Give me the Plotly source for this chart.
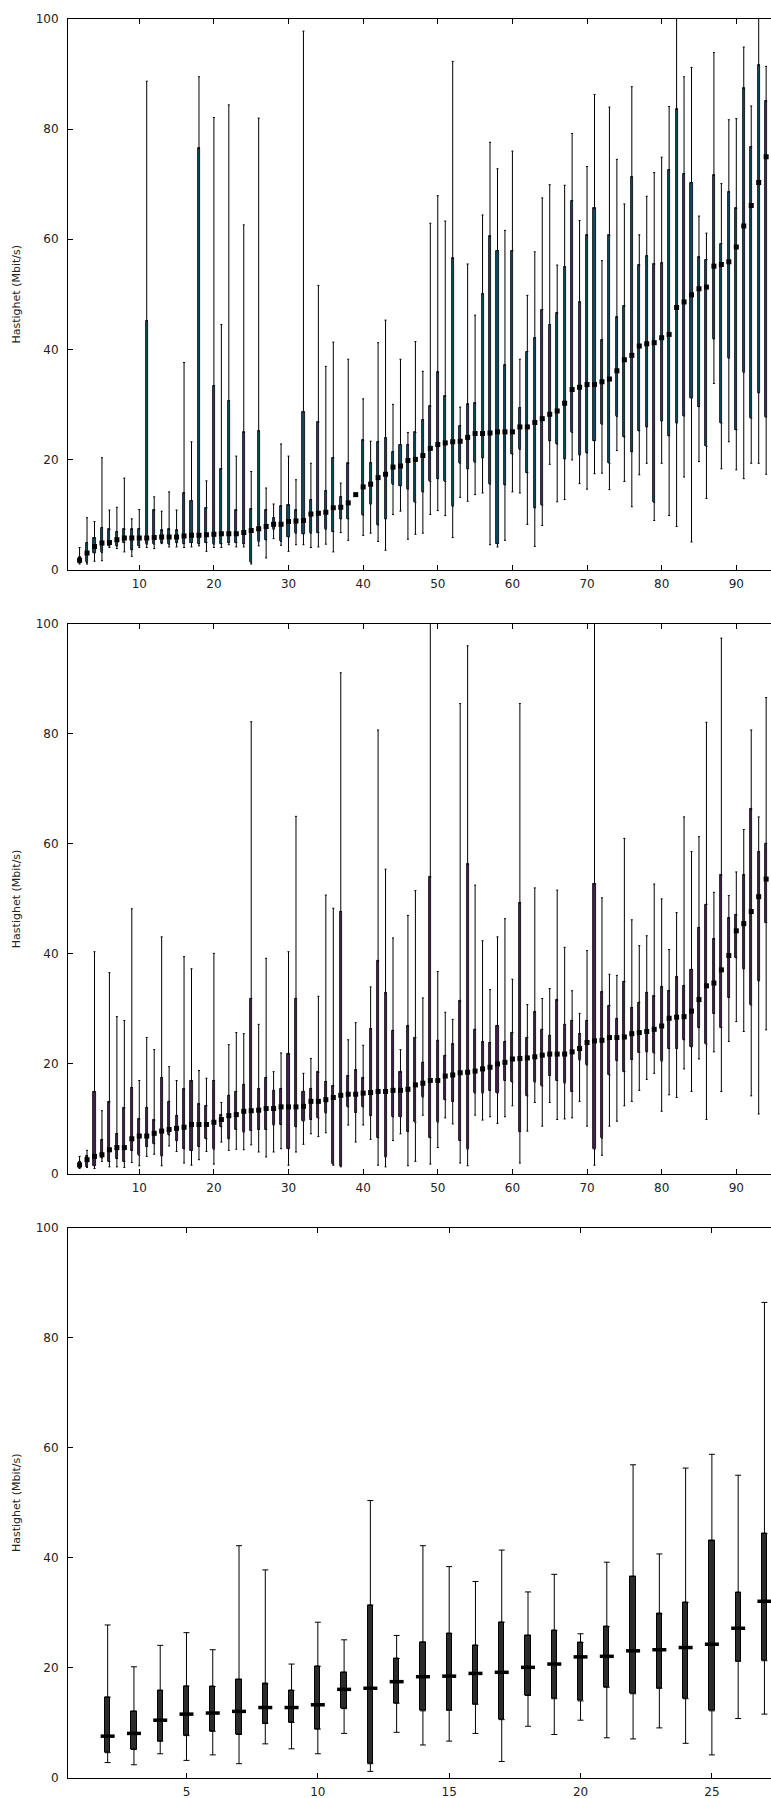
import plotly.graph_objects as go
from plotly.subplots import make_subplots

# ---------------- Panel 1 (x = 2..94) ----------------
x1 = list(range(2, 95))
p1_min = [1.0, 1.0, 1.5, 1.6, 4.0, 3.8, 3.2, 2.4, 4.0, 4.0, 3.8, 4.7, 4.1, 4.1, 4.0, 4.1, 4.3, 3.3, 4.0, 4.0,
          4.5, 4.1, 4.1, 1.0, 4.3, 2.1, 5.6, 4.4, 3.3, 4.5, 4.5, 4.0, 4.1, 4.6, 3.2, 6.7, 5.3, 13.6, 6.2, 6.6,
          5.1, 3.5, 10.0, 10.6, 5.5, 6.4, 6.6, 10.0, 10.7, 9.8, 5.8, 13.1, 12.4, 13.6, 13.9, 4.5, 4.1, 5.3, 14.1, 13.9,
          8.2, 4.2, 8.0, 19.1, 12.3, 12.7, 19.9, 15.6, 14.6, 17.4, 17.5, 14.5, 21.6, 16.0, 11.4, 17.2, 19.3, 8.9, 19.3, 9.8,
          7.8, 16.8, 5.0, 19.6, 12.9, 33.8, 18.3, 23.2, 18.1, 16.5, 19.3, 19.3, 17.3]
p1_q1 = [1.2, 1.3, 3.0, 3.1, 4.3, 4.3, 4.9, 3.6, 4.3, 4.6, 4.6, 4.9, 4.6, 4.9, 4.7, 4.9, 4.7, 4.9, 4.6, 4.7,
         4.9, 4.9, 4.7, 1.3, 5.1, 5.4, 7.3, 5.1, 5.9, 6.6, 6.5, 6.6, 6.7, 7.3, 6.9, 9.2, 9.2, 13.6, 9.9, 11.9,
         8.1, 9.2, 15.5, 15.2, 14.6, 12.2, 14.1, 16.0, 16.5, 16.0, 11.5, 19.3, 18.3, 19.5, 20.3, 15.5, 4.7, 15.4, 21.0, 21.8,
         17.6, 11.2, 11.7, 23.4, 22.8, 20.1, 24.9, 20.8, 21.2, 23.4, 26.4, 19.3, 27.8, 24.1, 21.4, 25.2, 25.9, 12.2, 27.0, 24.3,
         26.6, 27.9, 31.1, 29.6, 22.4, 41.9, 26.6, 38.4, 25.4, 35.8, 27.5, 32.1, 27.7]
p1_med = [1.7, 3.0, 4.2, 4.8, 4.9, 5.4, 5.7, 5.7, 5.7, 5.7, 5.8, 5.9, 5.9, 5.9, 6.1, 6.2, 6.2, 6.3, 6.4, 6.5,
          6.5, 6.5, 6.7, 7.1, 7.4, 7.8, 8.2, 8.2, 8.7, 8.8, 8.9, 10.1, 10.2, 10.4, 11.2, 11.3, 12.1, 13.6, 15.0, 15.5,
          16.7, 17.3, 18.6, 18.8, 19.8, 20.0, 20.7, 22.0, 22.7, 23.0, 23.2, 23.3, 24.0, 24.7, 24.7, 24.8, 25.0, 25.0, 25.0, 25.9,
          25.9, 26.7, 27.4, 28.2, 28.8, 30.2, 32.7, 33.1, 33.6, 33.6, 34.1, 34.6, 36.1, 38.1, 38.9, 40.6, 41.0, 41.2, 42.1, 42.7,
          47.6, 48.6, 49.9, 51.0, 51.3, 55.1, 55.4, 55.9, 58.6, 62.4, 66.1, 70.3, 75.0]
p1_q3 = [2.2, 4.9, 5.7, 7.6, 7.3, 6.9, 7.3, 7.3, 7.4, 45.2, 10.8, 7.1, 7.3, 7.1, 13.9, 12.5, 76.5, 11.2, 33.4, 18.3,
         30.7, 10.8, 24.9, 11.0, 25.2, 10.8, 9.4, 11.5, 11.7, 10.8, 28.6, 12.7, 26.8, 14.3, 20.3, 13.2, 19.3, 13.6, 23.5, 19.4,
         23.2, 23.9, 21.4, 22.7, 22.7, 24.9, 27.2, 29.7, 35.8, 31.5, 56.5, 26.1, 30.0, 30.2, 50.1, 60.5, 57.9, 37.1, 57.9, 29.4,
         39.6, 42.1, 47.2, 44.5, 46.6, 55.0, 67.0, 48.6, 60.7, 65.6, 41.7, 60.7, 45.8, 47.9, 71.3, 55.3, 57.0, 55.5, 55.7, 72.6,
         83.6, 71.9, 70.3, 56.7, 56.3, 71.6, 59.2, 68.6, 65.6, 87.4, 76.8, 91.6, 85.1]
p1_max = [4.0, 9.4, 8.7, 20.3, 10.8, 11.3, 16.6, 9.2, 10.9, 88.7, 13.2, 10.6, 14.1, 10.8, 37.6, 23.2, 89.5, 16.1, 82.1, 44.5,
          84.4, 20.6, 62.6, 17.8, 82.0, 14.8, 11.9, 22.8, 20.6, 16.3, 97.8, 19.3, 51.6, 36.9, 41.3, 15.7, 38.2, 13.6, 31.0, 23.3,
          41.2, 45.3, 30.0, 38.2, 24.9, 41.4, 36.0, 62.9, 67.9, 63.3, 92.3, 29.5, 55.5, 46.2, 64.4, 77.6, 72.8, 61.6, 76.0, 38.2,
          49.8, 57.7, 67.5, 69.9, 55.3, 69.8, 79.2, 63.4, 73.2, 86.3, 56.1, 84.0, 74.5, 66.4, 87.7, 60.8, 67.8, 72.1, 74.9, 84.1,
          104.0, 89.5, 91.2, 64.2, 61.1, 93.9, 70.1, 81.7, 81.9, 94.9, 84.2, 104.0, 91.4]

# ---------------- Panel 2 (x = 2..94) ----------------
x2 = list(range(2, 95))
p2_min = [1.0, 1.2, 1.0, 2.3, 1.3, 1.3, 1.2, 2.1, 1.5, 3.2, 3.6, 1.5, 5.1, 4.1, 2.0, 1.6, 2.6, 4.1, 1.8, 5.8,
          4.3, 4.5, 4.4, 5.3, 4.0, 3.1, 4.0, 4.6, 1.6, 4.0, 5.4, 7.3, 6.8, 7.5, 1.6, 1.3, 8.9, 5.8, 8.9, 6.3,
          1.6, 1.3, 6.1, 7.3, 1.5, 2.3, 10.7, 1.8, 4.8, 10.2, 9.1, 2.0, 1.5, 10.7, 9.8, 10.4, 9.2, 10.4, 12.4, 2.0,
          7.8, 13.0, 8.7, 13.0, 9.9, 10.0, 10.2, 13.2, 8.7, 1.6, 3.4, 8.7, 9.6, 12.4, 13.2, 15.2, 17.2, 18.3, 11.4, 14.4,
          13.9, 19.1, 15.0, 20.9, 9.9, 22.2, 15.0, 24.1, 27.7, 25.9, 14.2, 10.9, 26.2]
p2_q1 = [1.2, 1.3, 1.5, 2.9, 2.3, 2.8, 2.3, 4.3, 3.4, 5.0, 5.5, 3.3, 7.1, 6.1, 4.6, 4.3, 5.0, 6.4, 4.5, 8.6,
         6.4, 8.1, 7.6, 7.9, 8.1, 8.1, 8.9, 9.0, 4.6, 8.6, 9.6, 9.9, 10.2, 11.1, 1.8, 1.5, 12.2, 11.2, 12.2, 10.6,
         6.6, 3.1, 10.4, 10.4, 7.7, 9.4, 14.0, 6.6, 9.4, 13.5, 13.2, 6.1, 4.5, 14.7, 14.7, 15.2, 14.7, 17.0, 16.7, 7.7,
         14.2, 16.7, 16.0, 17.9, 17.0, 16.5, 15.0, 20.7, 19.8, 4.5, 6.5, 18.0, 20.6, 18.6, 20.8, 22.1, 22.2, 22.0, 20.5, 22.8,
         22.8, 24.4, 23.1, 26.6, 23.6, 29.2, 26.6, 32.1, 39.3, 37.3, 30.7, 35.1, 45.7]
p2_med = [1.65, 2.6, 3.2, 3.5, 4.4, 4.8, 4.8, 6.4, 6.9, 6.9, 7.4, 7.8, 8.1, 8.3, 8.5, 9.0, 9.0, 9.0, 9.4, 9.9,
          10.6, 10.8, 11.4, 11.5, 11.6, 11.9, 11.9, 12.2, 12.2, 12.2, 12.3, 13.2, 13.2, 13.5, 13.9, 14.3, 14.5, 14.5, 14.7, 14.8,
          15.0, 15.0, 15.2, 15.2, 15.4, 16.2, 16.5, 17.0, 17.0, 17.8, 18.0, 18.4, 18.5, 18.7, 19.1, 19.4, 20.0, 20.3, 20.9, 21.0,
          21.1, 21.3, 21.6, 21.8, 21.8, 21.8, 22.2, 22.8, 23.9, 24.2, 24.3, 24.8, 24.8, 24.9, 25.5, 25.7, 25.9, 26.3, 26.9, 28.3,
          28.5, 28.6, 29.6, 31.7, 34.2, 34.7, 37.1, 39.7, 44.2, 45.5, 47.7, 50.4, 53.6]
p2_q3 = [2.3, 3.3, 14.9, 6.2, 13.1, 7.3, 12.0, 15.7, 10.0, 12.1, 9.8, 17.5, 13.2, 10.6, 15.4, 16.9, 12.7, 12.4, 17.0, 10.7,
         14.3, 15.0, 16.3, 31.9, 15.5, 17.5, 15.2, 15.5, 21.8, 31.9, 15.0, 15.5, 18.5, 16.8, 16.0, 47.7, 17.8, 18.9, 17.4, 26.4,
         38.7, 32.9, 26.1, 18.5, 26.9, 24.8, 20.3, 54.0, 24.3, 21.5, 23.6, 31.4, 56.3, 26.3, 24.0, 23.9, 26.9, 24.0, 25.7, 49.3,
         24.8, 29.4, 26.3, 25.2, 31.6, 27.2, 27.9, 25.5, 27.9, 52.7, 33.1, 30.6, 28.2, 35.0, 30.2, 31.2, 33.0, 32.3, 34.0, 33.3,
         35.8, 34.2, 37.2, 44.8, 49.0, 42.7, 54.3, 46.5, 47.1, 54.3, 66.3, 58.6, 60.1]
p2_max = [3.2, 4.3, 40.4, 11.5, 36.6, 28.6, 27.9, 48.2, 17.0, 24.8, 22.6, 43.1, 19.5, 17.0, 39.5, 37.3, 18.8, 17.4, 40.1, 13.0,
          23.5, 25.7, 25.5, 82.2, 27.2, 39.2, 18.6, 22.0, 40.4, 65.0, 18.3, 21.0, 32.3, 50.7, 48.3, 91.1, 24.4, 27.5, 23.4, 34.0,
          80.7, 55.4, 42.9, 22.6, 47.0, 51.5, 32.0, 104.0, 36.8, 29.4, 28.1, 85.5, 96.0, 52.5, 42.4, 33.5, 43.1, 46.4, 35.4, 85.5,
          30.8, 52.0, 31.9, 33.7, 51.6, 41.2, 33.3, 29.2, 40.6, 104.0, 50.2, 36.3, 36.1, 61.0, 46.2, 41.5, 43.3, 52.7, 50.0, 40.8,
          47.5, 64.9, 58.6, 61.3, 82.1, 51.2, 97.4, 50.6, 54.9, 62.6, 80.7, 64.9, 86.6]

# ---------------- Panel 3 (x = 2..27) ----------------
x3 = list(range(2, 28))
p3_min = [2.8, 2.4, 4.4, 3.2, 4.2, 2.6, 6.2, 5.3, 4.4, 8.1, 1.2, 8.3, 6.0, 6.7, 8.1, 3.0, 9.4, 7.9, 10.5, 7.3,
          7.1, 9.1, 6.3, 4.2, 10.8, 11.6]
p3_q1 = [4.6, 5.2, 6.7, 7.7, 8.5, 7.9, 9.9, 10.1, 8.9, 12.6, 2.6, 13.6, 12.2, 12.3, 13.4, 10.6, 15.0, 14.4, 14.0, 16.5,
         15.3, 16.3, 14.4, 12.2, 21.2, 21.3]
p3_med = [7.6, 8.1, 10.5, 11.6, 11.8, 12.1, 12.8, 12.8, 13.3, 16.1, 16.3, 17.5, 18.4, 18.5, 19.0, 19.2, 20.1, 20.7, 22.0, 22.1,
          23.1, 23.3, 23.7, 24.3, 27.2, 32.1]
p3_q3 = [14.7, 12.1, 15.9, 16.7, 16.6, 17.9, 17.1, 15.9, 20.3, 19.2, 31.4, 21.7, 24.7, 26.2, 24.1, 28.3, 25.9, 26.8, 24.6, 27.5,
         36.6, 29.8, 31.9, 43.1, 33.7, 44.4]
p3_max = [27.8, 20.2, 24.1, 26.4, 23.3, 42.2, 37.8, 20.7, 28.3, 25.1, 50.4, 25.9, 42.2, 38.4, 35.7, 41.4, 33.8, 37.0, 26.2, 39.2,
          56.9, 40.7, 56.3, 58.8, 55.0, 86.4]

y_title = "Hastighet (Mbit/s)"
y_ticks = [0, 20, 40, 60, 80, 100]

panels = [
    dict(x=x1, mn=p1_min, q1=p1_q1, md=p1_med, q3=p1_q3, mx=p1_max,
         fill="#0d4a64", bw=0.28, blw=0.8, cap=1, msym="square", msize=5, mlw=0,
         xr=[0.45, 94.65], dt=10),
    dict(x=x2, mn=p2_min, q1=p2_q1, md=p2_med, q3=p2_q3, mx=p2_max,
         fill="#43204d", bw=0.28, blw=0.8, cap=1, msym="square", msize=5, mlw=0,
         xr=[0.45, 94.65], dt=10),
    dict(x=x3, mn=p3_min, q1=p3_q1, md=p3_med, q3=p3_q3, mx=p3_max,
         fill="#2b2b2b", bw=0.2, blw=1, cap=3, msym="line-ew", msize=10, mlw=3.5,
         xr=[0.49, 27.25], dt=5),
]

fig = make_subplots(rows=3, cols=1, vertical_spacing=0.03)

for i, p in enumerate(panels, start=1):
    up = [b - a for a, b in zip(p["q3"], p["mx"])]
    down = [a - b for a, b in zip(p["q1"], p["mn"])]
    height = [b - a for a, b in zip(p["q1"], p["q3"])]
    zeros = [0] * len(p["x"])
    # boxes (interquartile range)
    fig.add_trace(go.Bar(x=p["x"], y=height, base=p["q1"], width=p["bw"],
                         marker=dict(color=p["fill"], line=dict(color="black", width=p["blw"])),
                         showlegend=False, hoverinfo="skip"), row=i, col=1)
    # upper whiskers
    fig.add_trace(go.Scatter(x=p["x"], y=p["q3"], mode="markers",
                             marker=dict(size=1, color="rgba(0,0,0,0)"),
                             error_y=dict(type="data", symmetric=False, array=up, arrayminus=zeros,
                                          color="black", thickness=1, width=p["cap"]),
                             showlegend=False, hoverinfo="skip"), row=i, col=1)
    # lower whiskers
    fig.add_trace(go.Scatter(x=p["x"], y=p["q1"], mode="markers",
                             marker=dict(size=1, color="rgba(0,0,0,0)"),
                             error_y=dict(type="data", symmetric=False, array=zeros, arrayminus=down,
                                          color="black", thickness=1, width=p["cap"]),
                             showlegend=False, hoverinfo="skip"), row=i, col=1)
    # medians
    if p["msym"] == "square":
        mk = dict(symbol="square", size=p["msize"], color="black", line=dict(width=0))
    else:
        mk = dict(symbol="line-ew", size=p["msize"], color="black",
                  line=dict(width=p["mlw"], color="black"))
    fig.add_trace(go.Scatter(x=p["x"], y=p["md"], mode="markers", marker=mk,
                             showlegend=False, hoverinfo="skip"), row=i, col=1)

    fig.update_xaxes(range=p["xr"], tick0=0, dtick=p["dt"], ticks="inside", ticklen=5,
                     tickcolor="black", showline=True, linecolor="black", linewidth=1,
                     mirror="ticks", showgrid=False, zeroline=False,
                     ticklabelstandoff=3,
                     tickfont=dict(family="DejaVu Sans", size=12, color="#222"),
                     row=i, col=1)
    fig.update_yaxes(range=[0, 100], tickvals=y_ticks, ticks="inside", ticklen=5,
                     tickcolor="black", showline=True, linecolor="black", linewidth=1,
                     mirror=False, showgrid=False, zeroline=False,
                     ticklabelstandoff=6,
                     tickfont=dict(family="DejaVu Sans", size=12, color="#222"),
                     title=dict(text=y_title, standoff=12,
                                font=dict(family="DejaVu Sans", size=11, color="#222")),
                     row=i, col=1)

H = 1798
mt, mb = 19, 20
ph = H - mt - mb

def dom(top_px, bot_px):
    return [(H - mb - bot_px) / ph, (H - mb - top_px) / ph]

fig.update_layout(
    yaxis=dict(domain=dom(19, 569.5)),
    yaxis2=dict(domain=dom(623.8, 1174)),
    yaxis3=dict(domain=dom(1227.5, 1778)),
    width=771, height=H,
    margin=dict(l=68, r=0, t=mt, b=mb),
    plot_bgcolor="white", paper_bgcolor="white",
    bargap=0, showlegend=False,
    font=dict(family="DejaVu Sans", size=12, color="#222"),
)

fig.write_html("out.html", config={"displayModeBar": False},
               post_script="document.body.style.margin='0';")
